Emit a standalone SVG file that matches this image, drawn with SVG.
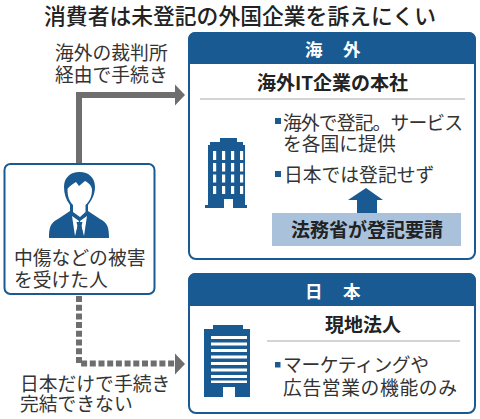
<svg xmlns="http://www.w3.org/2000/svg" width="480" height="419" viewBox="0 0 480 419">
<style>
text{font-family:"Noto Sans CJK JP","Noto Sans",sans-serif;fill:#222}
.t{font-size:18.800px;fill:#333}
.b{font-weight:700}
.h{font-size:17.500px;font-weight:700;fill:#fff}
.m{fill:#1a5a92}
.card{fill:#fff;stroke:#1a5a92;stroke-width:2}
.ln{fill:none;stroke:#6e6e6e;stroke-width:6}
.rule{stroke:#aaa;stroke-width:1.200}
</style>
<rect width="480" height="419" fill="#fff"/>
<text x="240" y="24" font-size="21.800" font-weight="500" text-anchor="middle">消費者は未登記の外国企業を訴えにくい</text>
<g id="connectors">
<path class="ln" d="M79 163V95H176"/>
<path d="M175 84.500L185 95L175 105.500Z" fill="#6e6e6e"/>
<path class="ln" d="M79 296V363.500H176" stroke-dasharray="6 2.700"/>
<path d="M175 353.500L185 364L175 374.500Z" fill="#6e6e6e"/>
</g>
<g id="label-overseas"><text class="t" x="55" y="60">海外の裁判所</text><text class="t" x="55" y="82">経由で手続き</text></g>
<g id="label-japan"><text class="t" x="20" y="391">日本だけで手続き</text><text class="t" x="20" y="411">完結できない</text></g>
<g id="person">
<rect class="card" x="4.500" y="164" width="150" height="130" rx="6"/>
<path class="m" d="M79.500 172C70 172 64 178 64 187C64 194 66 200 70 205V211L58 219C50 223 49 228 49 238H109C109 228 108 223 100 219L88 211V205C92 200 95 194 95 187C95 178 89 172 79.500 172Z"/>
<path fill="#fff" d="M67.500 189C69 186 73 184 76 182L79 186L85 181C89 183 92 186 92 190C92 196 90 201 85.500 205V212L80 217L73 212V205C69 201 67.500 196 67.500 189Z"/>
<path fill="#fff" d="M72 216L79 221L75 236ZM87 216L80 221L84 236Z"/>
<path class="m" d="M76.500 222H82.500L81.500 226L83 234L79.500 238L76 234L77.500 226Z"/>
<text class="t" x="14" y="265">中傷などの被害</text>
<text class="t" x="14" y="287">を受けた人</text>
</g>
<g id="overseas">
<rect class="card" x="189" y="33" width="286" height="226" rx="7"/>
<path class="m" d="M188 64V39a7 7 0 0 1 7-7H469a7 7 0 0 1 7 7V64z"/>
<text class="h" x="305 343" y="56">海外</text>
<text x="332.500" y="90" font-size="19" class="b" text-anchor="middle">海外IT企業の本社</text>
<line class="rule" x1="200" y1="99" x2="465" y2="99"/>
<path class="m" d="M208 145H210V142H220V138H237V142H243V145H245V205H247V208H205V205H208Z"/>
<g fill="#fff"><rect x="213" y="151" width="3.200" height="9"/><rect x="222" y="151" width="3.200" height="9"/><rect x="231" y="151" width="3.200" height="9"/><rect x="240" y="151" width="3.200" height="9"/><rect x="213" y="163" width="3.200" height="8.500"/><rect x="222" y="163" width="3.200" height="8.500"/><rect x="231" y="163" width="3.200" height="8.500"/><rect x="240" y="163" width="3.200" height="8.500"/><rect x="213" y="174.500" width="3.200" height="8"/><rect x="222" y="174.500" width="3.200" height="8"/><rect x="231" y="174.500" width="3.200" height="8"/><rect x="240" y="174.500" width="3.200" height="8"/><rect x="213" y="186" width="3.200" height="8"/><rect x="222" y="186" width="3.200" height="8"/><rect x="231" y="186" width="3.200" height="8"/><rect x="240" y="186" width="3.200" height="8"/><rect x="224" y="199" width="9" height="9"/></g>
<rect class="m" x="275" y="118" width="6" height="6"/>
<text class="t" x="283" y="130" textLength="180" lengthAdjust="spacing">海外で登記。サービス</text>
<text class="t" x="283" y="151">を各国に提供</text>
<rect class="m" x="275" y="171" width="6" height="6"/>
<text class="t" x="284" y="182">日本では登記せず</text>
<path class="m" d="M366 188L383 200H377V214H357V200H348Z"/>
<rect x="272" y="213" width="189" height="33" fill="#a9c1da"/>
<text x="367" y="237" font-size="19" class="b" text-anchor="middle">法務省が登記要請</text>
</g>
<g id="japan">
<rect class="card" x="189" y="274" width="286" height="139" rx="7"/>
<path class="m" d="M188 306V280a7 7 0 0 1 7-7H469a7 7 0 0 1 7 7V306z"/>
<text class="h" x="305 343" y="298">日本</text>
<text x="363" y="332" font-size="19" class="b" text-anchor="middle">現地法人</text>
<line class="rule" x1="267" y1="341" x2="460" y2="341"/>
<path class="m" d="M204 329H213V325H243V329H250V397H235V387H223V397H204Z"/>
<g fill="#fff"><rect x="211" y="336" width="36" height="3"/><rect x="211" y="342.500" width="36" height="3"/><rect x="211" y="349" width="36" height="3"/><rect x="211" y="355.500" width="36" height="3"/><rect x="211" y="362" width="36" height="3"/><rect x="211" y="368.500" width="36" height="3"/><rect x="211" y="375" width="36" height="3"/><rect x="211" y="380.500" width="36" height="2.500"/></g>
<rect class="m" x="275" y="362" width="5.500" height="5.500"/>
<text class="t" x="283" y="372" textLength="146" lengthAdjust="spacing">マーケティングや</text>
<text class="t" x="283" y="395" textLength="174" lengthAdjust="spacing">広告営業の機能のみ</text>
</g>
</svg>
